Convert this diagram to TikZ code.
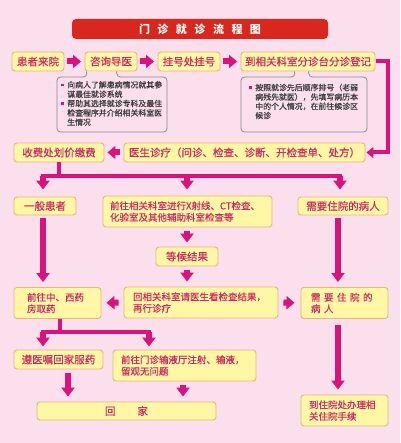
\documentclass[tikz,border=0pt]{standalone}
\usepackage{fontspec}
\setmainfont{Noto Sans CJK SC}
\newfontfamily\boxfont{Noto Sans CJK SC}[FakeBold=0.5]
\usetikzlibrary{arrows.meta,calc}
\definecolor{bg}{HTML}{FCDFEC}
\definecolor{boxfill}{HTML}{FFF7A6}
\definecolor{boxline}{HTML}{E7B678}
\definecolor{txt}{HTML}{C92C63}
\definecolor{mag}{HTML}{D8147C}
\definecolor{titlered}{HTML}{D8281E}
\definecolor{notetxt}{HTML}{3A3A3A}
\definecolor{noteline}{HTML}{8A8A8A}
\newcommand{\nbul}{\textcolor{mag}{\rule[1.5pt]{2.6pt}{2.6pt}}}
\begin{document}
\begin{tikzpicture}[x=1pt,y=-1pt,
  box/.style={draw=boxline, fill=boxfill, line width=0.9pt, rounded corners=3pt,
    text=txt, inner sep=0pt, font=\boxfont\fontsize{10.5}{12}\selectfont},
  mbox/.style={box, font=\boxfont\fontsize{9.5}{11.5}\selectfont, align=left},
  titlebox/.style={fill=titlered, rounded corners=4pt, text=white, inner sep=0pt,
    font=\fontsize{11}{13}\selectfont\bfseries},
  conn/.style={draw=mag, line width=4pt},
  arr/.style={draw=mag, line width=6.5pt, -{Triangle[width=13pt,length=9pt]}},
  harr/.style={draw=mag, line width=6pt, -{Triangle[width=13pt,length=8pt]}},
  notebox/.style={draw=noteline, fill=bg, line width=0.8pt, rounded corners=3.5pt},
  notetext/.style={text=notetxt, inner sep=0pt, font=\boxfont\fontsize{7.9}{8.9}\selectfont, anchor=west}
]
\fill[bg] (0,0) rectangle (400,443);
\useasboundingbox (0,0) rectangle (400,443);

% title
\node[titlebox, minimum width=256, minimum height=20] (t) at (200,29)
  {门\hspace{7.5pt}诊\hspace{7.5pt}就\hspace{7.5pt}诊\hspace{7.5pt}流\hspace{7.5pt}程\hspace{7.5pt}图};

% row 1
\node[box, minimum width=52, minimum height=19] (a1) at (38,61.5) {患者来院};
\node[box, minimum width=52, minimum height=19] (a2) at (111,61.5) {咨询导医};
\node[box, minimum width=62, minimum height=19] (a3) at (189,61.5) {挂号处挂号};
\node[box, minimum width=134, minimum height=19] (a4) at (308,61.5) {到相关科室分诊台分诊登记};
\draw[harr, shorten <=3pt, shorten >=3.5pt] (a1.east) -- (a2.west);
\draw[harr, shorten <=3pt, shorten >=3.5pt] (a2.east) -- (a3.west);
\draw[harr, shorten <=3pt, shorten >=3.5pt] (a3.east) -- (a4.west);

% notes
\draw[notebox] ($(a2.south west)+(2,0)$) -- (87,77) -- (57,77) -- (57,132) -- (167,132) -- (167,77) -- (117,77) -- ($(a2.south west)+(32,0)$);
\node[notetext] (n1) at (61,104.5) {\begin{tabular}{@{}l@{\hspace{3.5pt}}l@{}}
\nbul & 向病人了解患病情况就其参\\
 & 谋最佳就诊系统\\
\nbul & 帮助其选择就诊专科及最佳\\
 & 检查程序并介绍相关科室医\\
 & 生情况
\end{tabular}};
\draw[notebox] ($(a4.south west)+(54,0)$) -- (295,77) -- (241,77) -- (241,132) -- (367,132) -- (367,77) -- (309,77) -- ($(a4.south west)+(68,0)$);
\node[notetext] (n2) at (249,102.5) {\begin{tabular}{@{}l@{\hspace{3.5pt}}l@{}}
\nbul & 按照就诊先后顺序排号（老弱\\
 & 病残先就医），先填写病历本\\
 & 中的个人情况，在前往候诊区\\
 & 候诊
\end{tabular}};

% row 2
\node[box, minimum width=90, minimum height=19] (b1) at (59,152.5) {收费处划价缴费};
\node[box, minimum width=241, minimum height=19] (b2) at (244.5,152.5) {医生诊疗（问诊、检查、诊断、开检查单、处方）};
\coordinate (rc) at (388,100);
\draw[conn, -{Triangle[width=11pt,length=7pt]}, shorten <=1pt, shorten >=1pt]
  (a4.east) -- (a4.east -| rc) -- (rc |- b2.east) -- (b2.east);
\draw[harr, shorten <=4pt, shorten >=3pt] (b2.west) -- (b1.east);

% split 1
\coordinate (j1) at (59,176);
\coordinate (h1L) at (43,176);
\coordinate (h1M) at (187,176);
\coordinate (h1R) at (340,176);
\draw[conn] (b1.south) -- (j1);
\draw[conn, line cap=rect] (h1L) -- (h1R);

% row 3
\node[box, minimum width=62, minimum height=18] (c1) at (45,206) {一般患者};
\node[mbox, minimum width=169, minimum height=31, text width=155, inner xsep=7] (c2) at (187.5,211.5)
  {前往相关科室进行X射线、CT检查、\\化验室及其他辅助科室检查等};
\node[box, minimum width=90, minimum height=18] (c3) at (343,206) {需要住院的病人};
\draw[arr, shorten >=7pt] (h1L) -- (h1L |- c1.north);
\draw[arr, shorten >=6pt] (h1M) -- (h1M |- c2.north);
\draw[arr, shorten >=7pt] (h1R) -- (h1R |- c3.north);

\node[box, minimum width=62, minimum height=19] (w) at (187,256.5) {等候结果};
\draw[arr, shorten <=4pt, shorten >=4pt] (c2.south -| w.south) -- (w.north);

% row 4
\node[mbox, minimum width=87, minimum height=31, text width=61, inner xsep=13] (d1) at (57.5,303)
  {前往中、西药\\房取药};
\node[mbox, minimum width=154, minimum height=31, text width=136, inner xsep=9] (d2) at (201,302.5)
  {回相关科室请医生看检查结果，\\再行诊疗};
\node[mbox, minimum width=87, minimum height=31, text width=67, inner xsep=10] (d3) at (344.5,303)
  {需\hspace{3.5pt}要\hspace{3.5pt}住\hspace{3.5pt}院\hspace{3.5pt}的\\病\hspace{3.5pt}人};
\draw[arr, shorten <=4pt, shorten >=5pt] (w.south) -- (w.south |- d2.north);
\draw[arr, shorten <=3pt, shorten >=5pt] ([xshift=-2pt]c1.south) -- ([xshift=-2pt]c1.south |- d1.north);
\draw[arr, shorten <=3pt, shorten >=5pt] ([xshift=-5pt]c3.south) -- ([xshift=-5pt]c3.south |- d3.north);
\draw[harr, shorten <=5pt, shorten >=5pt] (d2.west) -- (d1.east);
\draw[harr, shorten <=5pt, shorten >=6pt] (d2.east) -- (d3.west);

% split 2
\coordinate (j2) at (60,332);
\coordinate (h2L) at (43,332);
\coordinate (h2R) at (149,332);
\draw[conn] (j2 |- d1.south) -- (j2);
\draw[conn, line cap=rect] (h2L) -- (h2R);

% row 5
\node[box, minimum width=89, minimum height=19] (e1) at (58.5,359.5) {遵医嘱回家服药};
\node[mbox, minimum width=143, minimum height=31, text width=127, inner xsep=8] (e2) at (184.5,365.5)
  {前往门诊输液厅注射、输液，\\留观无问题};
\draw[arr, shorten >=3pt] (h2L) -- (h2L |- e1.north);
\draw[arr, shorten >=3pt] (h2R) -- (h2R |- e2.north);

\node[box, minimum width=179, minimum height=18] (f) at (126.5,411) {回\hspace{22pt}家};
\coordinate (x1) at (68,0);
\coordinate (x2) at (183,0);
\draw[arr, shorten <=4pt, shorten >=5pt] (x1 |- e1.south) -- (x1 |- f.north);
\draw[arr, shorten <=4pt, shorten >=5pt] (x2 |- e2.south) -- (x2 |- f.north);

\node[mbox, minimum width=87, minimum height=31, text width=71, inner xsep=8] (g) at (344.5,410.5)
  {到住院处办理相\\关住院手续};
\draw[arr, shorten <=6pt, shorten >=5pt] ([xshift=-6.5pt]d3.south) -- ([xshift=-6.5pt]d3.south |- g.north);
\end{tikzpicture}
\end{document}
